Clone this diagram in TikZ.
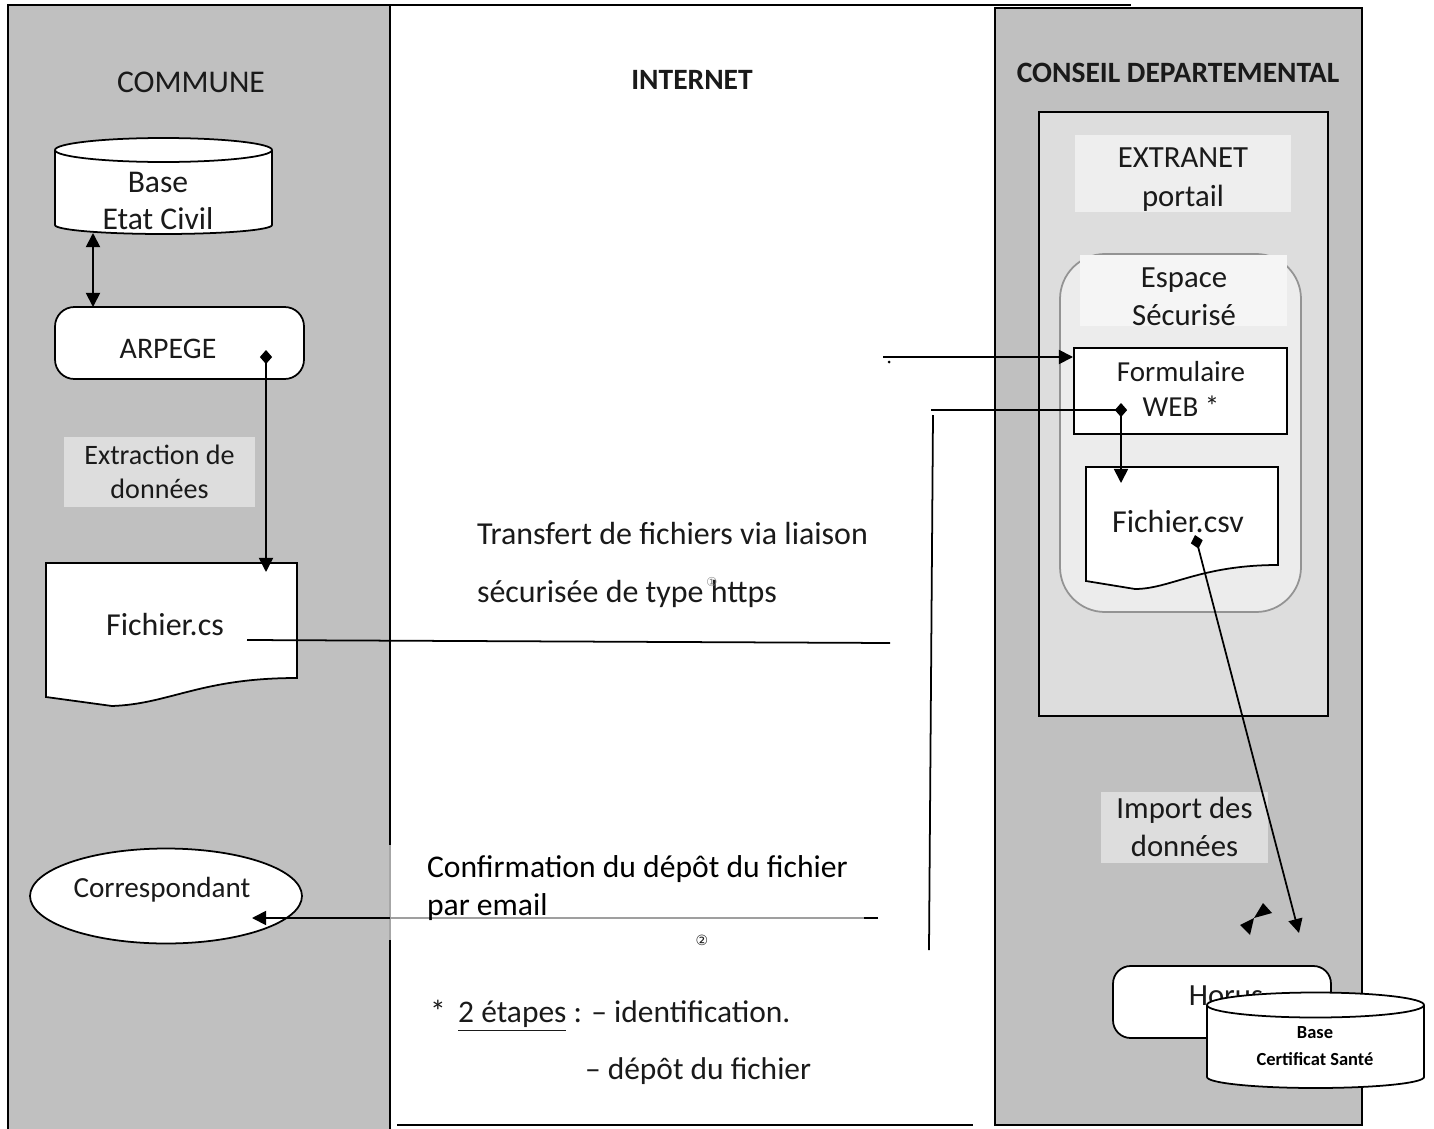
\documentclass[tikz,border=0pt]{standalone}
\usepackage{fontspec}
\setmainfont{Carlito}
\newfontfamily\symfont{DejaVu Sans}
\usetikzlibrary{arrows.meta,shapes.geometric}
\definecolor{colgray}{HTML}{C0C0C0}
\definecolor{extgray}{HTML}{DDDDDD}
\definecolor{espgray}{HTML}{ECECEC}
\definecolor{lblgray}{HTML}{EEEEEE}
\definecolor{esplbl}{HTML}{F5F5F5}
\definecolor{txt}{HTML}{1A1A1A}
\begin{document}
\begin{tikzpicture}[x=0.02cm,y=-0.02cm,line width=1pt,
  every node/.style={inner sep=0pt,outer sep=0pt,text=txt,font=\fontsize{18}{21.5}\selectfont},
  tri/.style={-{Triangle[length=8pt,width=8pt]}},
  dtri/.style={{Triangle[length=8pt,width=8pt]}-{Triangle[length=8pt,width=8pt]}},
  diatri/.style={{Diamond[length=8pt,width=7pt]}-{Triangle[length=8pt,width=8pt]}},
  lbl/.style={align=center},
  whitebox/.style={draw,fill=white},
  titlebold/.style={font=\fontsize{16.8}{19}\selectfont\bfseries}]
\useasboundingbox (0,0) rectangle (1434,1129);
\fill[white] (0,0) rectangle (1434,1129);
% columns
\fill[colgray] (8,5) rectangle (390,1129);
\draw (8,1129) -- (8,5) -- (1131,5);
\draw (390,5) -- (390,845);
\draw[gray!70] (390,845) -- (390,940);
\draw (390,940) -- (390,1129);
\filldraw[fill=colgray] (995,8) rectangle (1362,1125);
\draw (397,1125) -- (973,1125);
% titles
\node (tcommune) at (191,82) {COMMUNE};
\node[titlebold] (tinternet) at (692,80) {INTERNET};
\node[titlebold] (tconseil) at (1178,73) {CONSEIL DEPARTEMENTAL};
% Base Etat Civil cylinder
\path[fill=white,draw] (55,150) -- (55,225) arc[start angle=180,end angle=0,x radius=108.5,y radius=9] -- (272,150);
\filldraw[fill=white] (163.5,150) ellipse [x radius=108.5,y radius=12];
\node[lbl] (bec) at (158,201) {Base\\Etat Civil};
\coordinate (becB) at (93,233);
% ARPEGE
\node[whitebox,rounded corners=11pt,minimum width=4.98cm,minimum height=1.44cm] (arpege) at (179.5,343) {};
\node[font=\fontsize{17}{20}\selectfont] (tarpege) at (168,349) {ARPEGE};
\coordinate (arpT) at (93,307);
\draw[dtri] (becB) -- (arpT);
% Extraction label
\node[fill=extgray,minimum width=3.82cm,minimum height=1.42cm,lbl,font=\fontsize{16}{19.5}\selectfont] (extr) at (159.5,472) {Extraction de\\données};
% Fichier.cs document
\filldraw[fill=white] (46,563) -- (297,563) -- (297,678) .. controls (200,678) and (170,704) .. (112,706) -- (46,697) -- cycle;
\node[font=\fontsize{18.2}{21}\selectfont] (fcs) at (165,625) {Fichier.cs};
\coordinate (arpD) at (266,350);
\coordinate (fcsT) at (266,572);
\draw[diatri] (arpD) -- (fcsT);
% line Fichier.cs -> internet
\coordinate (fcsR) at (247,640);
\coordinate (fcsE) at (890,643);
\draw (fcsR) -- (fcsE);
% Correspondant
\node[draw,fill=white,ellipse,minimum width=5.44cm,minimum height=1.9cm] (corr) at (166,896) {};
\node[font=\fontsize{16.6}{19}\selectfont] (tcorr) at (162,890) {Correspondant};
\coordinate (corrA) at (252,918);
\coordinate (confS) at (878,918);
\coordinate (confM) at (864,918);
\coordinate (confB) at (390,918);
\draw (confS) -- (confM);
\draw[gray!75] (confM) -- (confB);
\draw[tri] (confB) -- (corrA);
% middle texts
\node[anchor=west,align=left,font=\fontsize{18.2}{33.5}\selectfont] (transf) at (477,565) {Transfert de fichiers via liaison\\sécurisée de type https};
\node[text=gray,font=\symfont\fontsize{7}{8}\selectfont] (n1) at (712,582) {①};
\node[anchor=west,align=left,font=\fontsize{18}{22}\selectfont,text=black] (conf) at (427,888) {Confirmation du dépôt du fichier\\par email};
\node[font=\symfont\fontsize{8}{9}\selectfont] (n2) at (702,940) {②};
\node[anchor=west,font=\fontsize{17.9}{20}\selectfont] (etapes) at (430,1016) {*\hspace{0.4em}\underline{2 étapes} : – identification.};
\node[anchor=west,font=\fontsize{17.9}{20}\selectfont] (etapes2) at (585,1071) {– dépôt du fichier};
% Extranet
\filldraw[fill=extgray] (1039,112) rectangle (1328,716);
\node[fill=lblgray,minimum width=4.32cm,minimum height=1.54cm] (extbg) at (1183,173.5) {};
\node[lbl,font=\fontsize{17.5}{22}\selectfont] (extranet) at (1183,179.5) {EXTRANET\\portail};
% Espace
\filldraw[fill=espgray,draw=gray!85,rounded corners=0.9cm] (1060,254) rectangle (1301,612);
\node[fill=esplbl,minimum width=4.14cm,minimum height=1.42cm] (espbg) at (1183.5,290.5) {};
\node[lbl,font=\fontsize{17.5}{21.5}\selectfont] (espace) at (1184,297) {Espace\\Sécurisé};
% Formulaire
\node[whitebox,minimum width=4.26cm,minimum height=1.72cm] (form) at (1180.5,391) {};
\node[lbl,font=\fontsize{16.5}{20}\selectfont] (tform) at (1181,389) {Formulaire\\WEB *};
% Fichier.csv
\filldraw[fill=white] (1086,467) -- (1278,467) -- (1278,565) .. controls (1200,565) and (1170,589) .. (1135,589) -- (1086,581) -- cycle;
\node[font=\fontsize{18.2}{21}\selectfont] (fcsv) at (1178,522) {Fichier.csv};
% connectors right
\coordinate (inS) at (883,357);
\coordinate (inE) at (1073,357);
\draw[tri] (inS) -- (inE);
\fill (889,362) circle [radius=1.5];
\coordinate (l2S) at (931,410);
\coordinate (formD) at (1121,410);
\coordinate (formDs) at (1121,403);
\coordinate (csvT) at (1121,483);
\draw (l2S) -- (formD);
\draw[diatri] (formDs) -- (csvT);
\coordinate (vT) at (933,415);
\coordinate (vB) at (929,950);
\draw (vT) -- (vB);
% Import label (under the arrow)
\node[fill=extgray,minimum width=3.34cm,minimum height=1.42cm,lbl,font=\fontsize{17.5}{21.5}\selectfont] (import) at (1184.5,827) {Import des\\données};
\coordinate (csvD) at (1195,535);
\coordinate (horA) at (1299,933);
\draw[diatri] (csvD) -- (horA);
% bowtie
\fill (1263,903) -- (1272,913) -- (1254,918) -- cycle;
\fill (1240,925) -- (1250,935) -- (1254,918) -- cycle;
% Horus
\node[whitebox,rounded corners=10pt,minimum width=4.36cm,minimum height=1.44cm] (horus) at (1222,1002) {};
\node[font=\fontsize{17.5}{21}\selectfont] (thorus) at (1226,996) {Horus};
% Base Certificat Sante cylinder
\path[fill=white,draw] (1207,1005) -- (1207,1077) arc[start angle=180,end angle=0,x radius=108.5,y radius=11] -- (1424,1005);
\filldraw[fill=white] (1315.5,1005) ellipse [x radius=108.5,y radius=12.5];
\node[lbl,font=\fontsize{10.5}{15.3}\selectfont\bfseries,text=black] (bcs) at (1315,1046) {Base\\Certificat Santé};
\end{tikzpicture}
\end{document}
